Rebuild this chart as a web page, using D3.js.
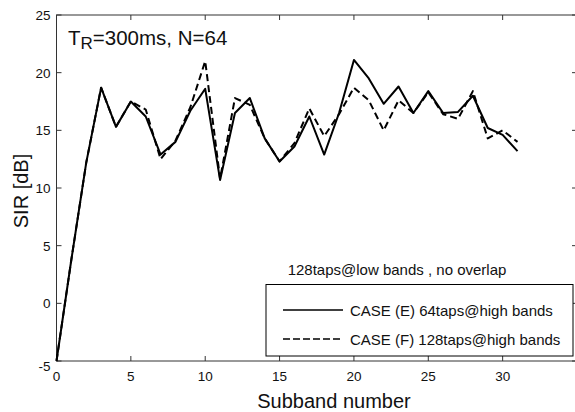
<!DOCTYPE html>
<html lang="en">
<head>
    <script src="https://d3js.org/d3.v7.min.js"></script>
    <style>
        body { margin: 0; background: white; }
        text { font-family: "Liberation Sans", Arial, sans-serif; fill: #111; }
    </style>
</head>
<body>
    <svg id="chart" width="575" height="412"></svg>

    <script>
    // subband index 0..31
    const subbands = d3.range(0, 32);

    // CASE (E) 64taps@high bands
    const caseE = [-5, 3.8, 12.2, 18.7, 15.3, 17.5, 16.2, 12.9, 14.0, 16.7,
                   18.6, 10.7, 16.5, 17.8, 14.3, 12.3, 13.6, 16.2, 12.9, 16.5,
                   21.1, 19.5, 17.3, 18.8, 16.5, 18.4, 16.5, 16.6, 18.0, 15.2,
                   14.6, 13.2];

    // CASE (F) 128taps@high bands
    const caseF = [-5, 3.8, 12.2, 18.7, 15.3, 17.5, 16.8, 12.5, 14.1, 17.0,
                   21.0, 10.8, 17.8, 17.2, 14.3, 12.3, 13.9, 16.9, 14.5, 16.4,
                   18.7, 17.6, 15.0, 17.6, 16.5, 18.3, 16.4, 16.0, 18.4, 14.3,
                   15.0, 14.0];

    const xTicks = [0, 5, 10, 15, 20, 25, 30];
    const yTicks = [-5, 0, 5, 10, 15, 20, 25];

    const svg = d3.select("#chart");
    const margin = {top: 15, right: -2, bottom: 51, left: 56.5};
    const width = 575;
    const height = 412;

    const x = d3.scaleLinear()
        .domain([0, 35])
        .range([margin.left, width - margin.right]);
    const y = d3.scaleLinear()
        .domain([-5, 25])
        .range([height - margin.bottom, margin.top]);

    // frame ticks pointing inward, like matlab
    const tickLen = 5;
    const axisColor = "#333";

    const frame = svg.append("g");
    frame.append("rect")
        .attr("x", x(0)).attr("y", y(25))
        .attr("width", x(35) - x(0)).attr("height", y(-5) - y(25))
        .attr("fill", "none").attr("stroke", axisColor).attr("stroke-width", 1);

    xTicks.forEach(t => {
        frame.append("line")
            .attr("x1", x(t)).attr("x2", x(t))
            .attr("y1", y(-5)).attr("y2", y(-5) - tickLen)
            .attr("stroke", axisColor);
        frame.append("line")
            .attr("x1", x(t)).attr("x2", x(t))
            .attr("y1", y(25)).attr("y2", y(25) + tickLen)
            .attr("stroke", axisColor);
        frame.append("text")
            .attr("x", x(t))
            .attr("y", y(-5) + 20)
            .attr("text-anchor", "middle")
            .attr("font-size", 13.5)
            .text(t);
    });

    yTicks.forEach(t => {
        frame.append("line")
            .attr("x1", x(0)).attr("x2", x(0) + tickLen)
            .attr("y1", y(t)).attr("y2", y(t))
            .attr("stroke", axisColor);
        frame.append("line")
            .attr("x1", x(35)).attr("x2", x(35) - tickLen)
            .attr("y1", y(t)).attr("y2", y(t))
            .attr("stroke", axisColor);
        frame.append("text")
            .attr("x", x(0) - 6)
            .attr("y", y(t) + 5 + (t === -5 ? 5 : 0))
            .attr("text-anchor", "end")
            .attr("font-size", 13.5)
            .text(t);
    });

    // axis labels
    svg.append("text")
        .attr("x", 334)
        .attr("y", 408)
        .attr("text-anchor", "middle")
        .attr("font-size", 20)
        .text("Subband number");

    svg.append("text")
        .attr("transform", "translate(28,191) rotate(-90)")
        .attr("text-anchor", "middle")
        .attr("font-size", 20)
        .text("SIR [dB]");

    // title inside plot
    const title = svg.append("text")
        .attr("x", 68)
        .attr("y", 45)
        .attr("font-size", 20.5);
    title.append("tspan").text("T");
    title.append("tspan").attr("font-size", 17).attr("dy", 4).text("R");
    title.append("tspan").attr("dy", -4).text("=300ms, N=64");

    // data lines
    const line = (vals) => d3.line()
        .x((d, i) => x(subbands[i]))
        .y(d => y(d))(vals);

    svg.append("path")
        .attr("d", line(caseF))
        .attr("fill", "none")
        .attr("stroke", "#000")
        .attr("stroke-width", 2)
        .attr("stroke-dasharray", "7,4")
        .attr("stroke-linejoin", "round");

    svg.append("path")
        .attr("d", line(caseE))
        .attr("fill", "none")
        .attr("stroke", "#000")
        .attr("stroke-width", 2)
        .attr("stroke-linejoin", "round");

    // legend
    svg.append("text")
        .attr("x", 397)
        .attr("y", 275)
        .attr("text-anchor", "middle")
        .attr("font-size", 15)
        .text("128taps@low bands , no overlap");

    const legend = svg.append("g");
    legend.append("rect")
        .attr("x", 266).attr("y", 284.5)
        .attr("width", 307).attr("height", 71.5)
        .attr("fill", "white").attr("stroke", "#000").attr("stroke-width", 1);

    const items = [
        {label: "CASE (E) 64taps@high bands", dash: null, ly: 310},
        {label: "CASE (F) 128taps@high bands", dash: "7,3", ly: 339}
    ];
    items.forEach(it => {
        legend.append("line")
            .attr("x1", 283).attr("x2", 343)
            .attr("y1", it.ly).attr("y2", it.ly)
            .attr("stroke", "#000").attr("stroke-width", 1.5)
            .attr("stroke-dasharray", it.dash);
        legend.append("text")
            .attr("x", 350)
            .attr("y", it.ly + 5.5)
            .attr("font-size", 15)
            .text(it.label);
    });
    </script>
</body>
</html>
